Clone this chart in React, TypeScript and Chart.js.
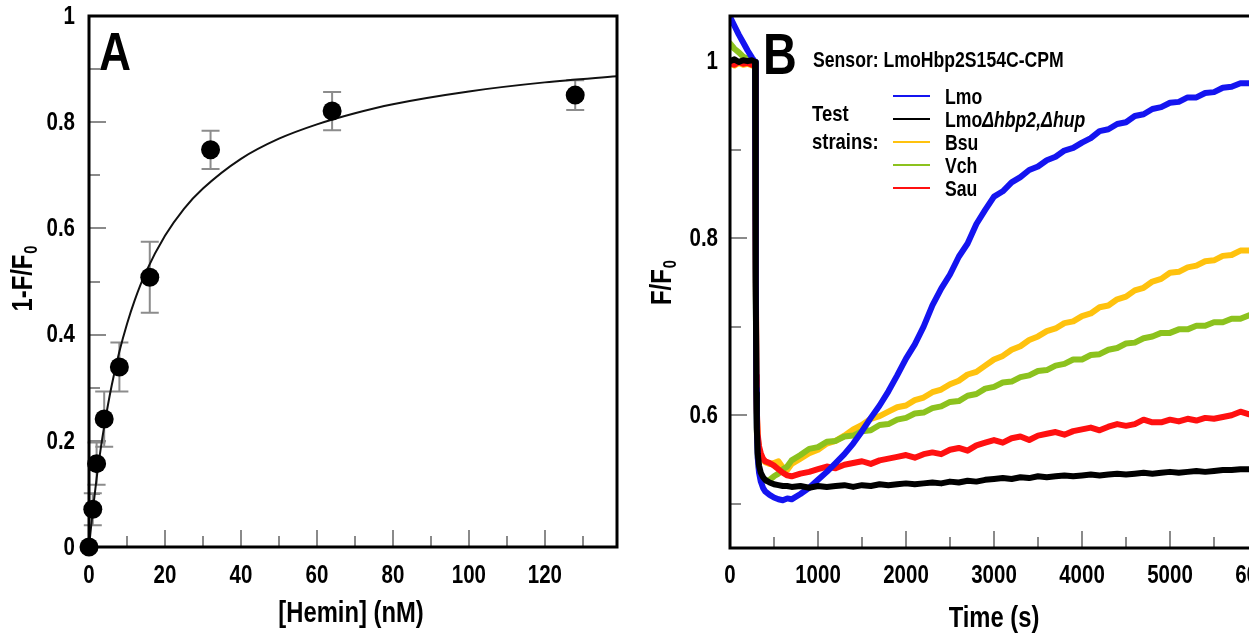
import React, { useEffect, useRef } from "react";
import { Chart, registerables } from "chart.js";

Chart.register(...registerables);

const FONT = "'Liberation Sans', Arial, sans-serif";
const SQUEEZE = 0.82;
const TICK_COLOR = "#8a8a8a";
const ERR_COLOR = "#8c8c8c";

// ---------------- Panel A data ----------------
const HEMIN_NM = [0, 1, 2, 4, 8, 16, 32, 64, 128];
const QUENCH = [0, 0.071, 0.157, 0.241, 0.339, 0.508, 0.748, 0.821, 0.851];
const QUENCH_ERR = [0, 0.03, 0.04, 0.052, 0.046, 0.067, 0.036, 0.036, 0.028];
const FIT_X = [0, 1, 2, 3, 4, 6, 8, 10, 12, 15, 20, 25, 30, 40, 50, 60, 70, 80, 100, 120, 140];
const FIT_Y = [0, 0.069, 0.129, 0.181, 0.227, 0.305, 0.368, 0.42, 0.464, 0.518, 0.586, 0.637, 0.675, 0.731, 0.769, 0.796, 0.817, 0.834, 0.858, 0.875, 0.887];
const A_X_MAJOR = [0, 20, 40, 60, 80, 100, 120];
const A_X_MINOR = [10, 30, 50, 70, 90, 110, 130];
const A_Y_MAJOR = [0, 0.2, 0.4, 0.6, 0.8, 1];
const A_Y_MINOR = [0.1, 0.3, 0.5, 0.7, 0.9];
const A_Y_LABELS = ["0", "0.2", "0.4", "0.6", "0.8", "1"];

// ---------------- Panel B data ----------------
const TIME_S = [
  0, 50, 100, 150, 200, 250, 285, 290, 295, 300, 305, 315, 330, 350, 375, 400, 450, 500, 550, 600, 650, 700,
  800, 900, 1000, 1100, 1200, 1300, 1400, 1500, 1600, 1700,
  1800, 1900, 2000, 2100, 2200, 2300, 2400, 2500, 2600, 2700,
  2800, 2900, 3000, 3100, 3200, 3300, 3400, 3500, 3600, 3700,
  3800, 3900, 4000, 4100, 4200, 4300, 4400, 4500, 4600, 4700,
  4800, 4900, 5000, 5100, 5200, 5300, 5400, 5500, 5600, 5700,
  5800, 5900, 6000,
];
const LMO = [
  1.05, 1.04, 1.03, 1.021, 1.012, 1.004, 0.999, 0.97, 0.76, 0.63, 0.585, 0.552, 0.535, 0.525, 0.518, 0.514, 0.51, 0.507, 0.505, 0.504, 0.506, 0.505,
  0.511, 0.518, 0.527, 0.536, 0.546, 0.556, 0.568, 0.582, 0.597, 0.611,
  0.627, 0.645, 0.664, 0.68, 0.7, 0.724, 0.743, 0.759, 0.779, 0.794,
  0.816, 0.832, 0.847, 0.853, 0.863, 0.869, 0.877, 0.881, 0.888, 0.892,
  0.899, 0.902, 0.908, 0.913, 0.921, 0.923, 0.929, 0.931, 0.938, 0.94,
  0.946, 0.948, 0.953, 0.954, 0.959, 0.959, 0.964, 0.965, 0.97, 0.971,
  0.975, 0.975, 0.978,
];
const LMO_DHBP2_DHUP = [
  1.0, 1.002, 0.999, 1.001, 1.0, 1.001, 0.999, 0.96, 0.75, 0.625, 0.585, 0.557, 0.543, 0.535, 0.53, 0.527, 0.524, 0.522, 0.521, 0.52, 0.52, 0.519,
  0.52, 0.518, 0.52, 0.519, 0.52, 0.521, 0.519, 0.521, 0.52, 0.522,
  0.521, 0.522, 0.523, 0.522, 0.523, 0.524, 0.523, 0.525, 0.524, 0.526,
  0.525, 0.527, 0.528, 0.529, 0.528, 0.53, 0.529, 0.531, 0.53, 0.531,
  0.532, 0.531, 0.532, 0.533, 0.532, 0.533, 0.534, 0.533, 0.534, 0.535,
  0.534, 0.535, 0.536, 0.535, 0.536, 0.537, 0.536, 0.537, 0.538, 0.538,
  0.539, 0.539, 0.54,
];
const BSU = [
  0.997, 0.995, 0.998, 0.996, 0.997, 0.995, 0.996, 0.96, 0.77, 0.64, 0.6, 0.575, 0.562, 0.555, 0.55, 0.547, 0.545, 0.546, 0.548, 0.541, 0.538, 0.545,
  0.551, 0.557, 0.561, 0.568, 0.571, 0.577, 0.584, 0.589, 0.596, 0.599,
  0.604, 0.609, 0.611, 0.617, 0.62, 0.626, 0.629, 0.635, 0.639, 0.646,
  0.649, 0.656, 0.663, 0.667, 0.674, 0.678, 0.685, 0.689, 0.695, 0.698,
  0.704, 0.706, 0.712, 0.715, 0.722, 0.724, 0.731, 0.734, 0.741, 0.744,
  0.751, 0.754, 0.761, 0.762, 0.767, 0.769, 0.774, 0.775, 0.78, 0.781,
  0.786, 0.786, 0.79,
];
const VCH = [
  1.02, 1.014, 1.01, 1.005, 1.003, 1.0, 0.998, 0.96, 0.75, 0.625, 0.582, 0.553, 0.538, 0.531, 0.527, 0.526, 0.527, 0.531, 0.534, 0.539, 0.542, 0.549,
  0.555, 0.562, 0.564, 0.57, 0.571, 0.576, 0.577, 0.582, 0.583, 0.589,
  0.59, 0.595, 0.597, 0.602, 0.603, 0.608, 0.61, 0.615, 0.616, 0.622,
  0.624, 0.63, 0.632, 0.637, 0.638, 0.643, 0.645, 0.65, 0.651, 0.656,
  0.658, 0.663, 0.663, 0.668, 0.669, 0.674, 0.676, 0.681, 0.682, 0.687,
  0.689, 0.693, 0.693, 0.697, 0.697, 0.701, 0.701, 0.705, 0.705, 0.709,
  0.709, 0.713, 0.714,
];
const SAU = [
  0.998, 0.996, 0.999, 0.997, 0.998, 0.996, 0.997, 0.96, 0.78, 0.645, 0.605, 0.578, 0.565, 0.557, 0.551, 0.548, 0.546, 0.543, 0.539, 0.535, 0.532, 0.531,
  0.534, 0.536, 0.539, 0.542, 0.54, 0.544, 0.546, 0.548, 0.545, 0.549,
  0.551, 0.553, 0.555, 0.552, 0.556, 0.558, 0.556, 0.561, 0.563, 0.56,
  0.566, 0.569, 0.572, 0.569, 0.574, 0.576, 0.572, 0.577, 0.579, 0.581,
  0.578, 0.582, 0.584, 0.586, 0.583, 0.587, 0.59, 0.588, 0.59, 0.595,
  0.592, 0.592, 0.595, 0.593, 0.596, 0.594, 0.597, 0.596, 0.598, 0.6,
  0.604, 0.601, 0.603,
];
const STRAIN_NAMES = ["Lmo", "LmoΔhbp2,Δhup", "Bsu", "Vch", "Sau"];
const STRAIN_COLORS = ["#1414f0", "#000000", "#ffc20e", "#8cc21e", "#ff1010"];
const B_X_MAJOR = [0, 1000, 2000, 3000, 4000, 5000, 6000];
const B_X_MINOR = [500, 1500, 2500, 3500, 4500, 5500, 6500];
const B_Y_MAJOR = [0.6, 0.8, 1.0];
const B_Y_MINOR = [0.5, 0.7, 0.9];
const B_Y_LABELS = ["0.6", "0.8", "1"];

type Ctx = CanvasRenderingContext2D;

function txt(ctx: Ctx, s: string, x: number, y: number, size: number, align: CanvasTextAlign = "left", baseline: CanvasTextBaseline = "alphabetic", style = "bold") {
  ctx.save();
  ctx.translate(x, y);
  ctx.scale(SQUEEZE, 1);
  ctx.font = `${style} ${size}px ${FONT}`;
  ctx.textAlign = align;
  ctx.textBaseline = baseline;
  ctx.fillStyle = "#000";
  ctx.fillText(s, 0, 0);
  ctx.restore();
}

function width(ctx: Ctx, s: string, size: number, style = "bold") {
  ctx.save();
  ctx.font = `${style} ${size}px ${FONT}`;
  const w = ctx.measureText(s).width * SQUEEZE;
  ctx.restore();
  return w;
}

function subTitle(ctx: Ctx, main: string, sub: string, size: number) {
  // centred on (0,0), baseline at 0
  const subSize = Math.round(size * 0.62);
  const w1 = width(ctx, main, size);
  const w2 = width(ctx, sub, subSize);
  const start = -(w1 + w2) / 2;
  txt(ctx, main, start, 0, size);
  txt(ctx, sub, start + w1 + 1, size * 0.16, subSize);
}

function tickLines(ctx: Ctx, chart: any, xMaj: number[], xMin: number[], yMaj: number[], yMin: number[]) {
  const { chartArea: ca, scales } = chart;
  const x = scales.x, y = scales.y;
  ctx.strokeStyle = TICK_COLOR;
  ctx.lineWidth = 2;
  ctx.beginPath();
  const vx = (vals: number[], len: number) => vals.forEach((v) => {
    const p = Math.round(x.getPixelForValue(v));
    ctx.moveTo(p, ca.bottom);
    ctx.lineTo(p, ca.bottom - len);
  });
  const vy = (vals: number[], len: number) => vals.forEach((v) => {
    const p = Math.round(y.getPixelForValue(v));
    ctx.moveTo(ca.left, p);
    ctx.lineTo(ca.left + len, p);
  });
  vx(xMaj, 17); vx(xMin, 11); vy(yMaj, 17); vy(yMin, 11);
  ctx.stroke();
}

function tickLabels(ctx: Ctx, chart: any, xVals: number[], xLabels: string[], yVals: number[], yLabels: string[], xLabelY: number, yLabelGap: number) {
  const { chartArea: ca, scales } = chart;
  xVals.forEach((v, i) => txt(ctx, xLabels[i], scales.x.getPixelForValue(v), xLabelY, 25, "center", "middle"));
  yVals.forEach((v, i) => txt(ctx, yLabels[i], ca.left - yLabelGap, scales.y.getPixelForValue(v) + 1, 25, "right", "middle"));
}

function frame(ctx: Ctx, ca: any) {
  ctx.strokeStyle = "#000";
  ctx.lineWidth = 3;
  ctx.strokeRect(ca.left, ca.top, ca.right - ca.left, ca.bottom - ca.top);
}

const zeroPad = (scale: any) => {
  scale.paddingTop = 0; scale.paddingBottom = 0; scale.paddingLeft = 0; scale.paddingRight = 0;
};

const panelAPlugin = {
  id: "panelA",
  beforeDatasetsDraw(chart: any) {
    const { ctx, scales } = chart;
    ctx.save();
    tickLines(ctx, chart, A_X_MAJOR, A_X_MINOR, A_Y_MAJOR, A_Y_MINOR);
    ctx.strokeStyle = ERR_COLOR;
    ctx.lineWidth = 2;
    ctx.beginPath();
    HEMIN_NM.forEach((c, i) => {
      const e = QUENCH_ERR[i];
      if (!e) return;
      const px = scales.x.getPixelForValue(c);
      const t = scales.y.getPixelForValue(QUENCH[i] + e);
      const b = scales.y.getPixelForValue(QUENCH[i] - e);
      ctx.moveTo(px, t); ctx.lineTo(px, b);
      ctx.moveTo(px - 9, t); ctx.lineTo(px + 9, t);
      ctx.moveTo(px - 9, b); ctx.lineTo(px + 9, b);
    });
    ctx.stroke();
    ctx.restore();
  },
  afterDraw(chart: any) {
    const { ctx, chartArea: ca } = chart;
    ctx.save();
    frame(ctx, ca);
    tickLabels(ctx, chart, A_X_MAJOR, A_X_MAJOR.map(String), A_Y_MAJOR, A_Y_LABELS, 576, 14);
    txt(ctx, "A", 99, 70, 54);
    txt(ctx, "[Hemin] (nM)", 351, 622, 29, "center");
    ctx.translate(32, 279);
    ctx.rotate(-Math.PI / 2);
    subTitle(ctx, "1-F/F", "0", 29);
    ctx.restore();
  },
};

const panelBPlugin = {
  id: "panelB",
  beforeDatasetsDraw(chart: any) {
    const { ctx } = chart;
    ctx.save();
    tickLines(ctx, chart, B_X_MAJOR, B_X_MINOR, B_Y_MAJOR, B_Y_MINOR);
    ctx.restore();
  },
  afterDraw(chart: any) {
    const { ctx, chartArea: ca } = chart;
    ctx.save();
    frame(ctx, ca);
    tickLabels(ctx, chart, B_X_MAJOR, B_X_MAJOR.map(String), B_Y_MAJOR, B_Y_LABELS, 576, 12);
    txt(ctx, "B", 123, 74, 57);
    txt(ctx, "Sensor: LmoHbp2S154C-CPM", 173, 67, 21.5);
    txt(ctx, "Test", 172, 121, 22.5);
    txt(ctx, "strains:", 172, 149, 22.5);
    const ys = [96, 119, 142, 165, 188];
    STRAIN_NAMES.forEach((name, i) => {
      ctx.strokeStyle = STRAIN_COLORS[i];
      ctx.lineWidth = 2;
      ctx.beginPath();
      ctx.moveTo(253, ys[i]);
      ctx.lineTo(290, ys[i]);
      ctx.stroke();
      const base = ys[i] + 7.5;
      if (name.indexOf("Δ") > 0) {
        txt(ctx, "Lmo", 305, base, 21.5);
        const w = width(ctx, "Lmo", 21.5);
        txt(ctx, "Δhbp2,Δhup", 305 + w, base, 21.5, "left", "alphabetic", "italic bold");
      } else {
        txt(ctx, name, 305, base, 21.5);
      }
    });
    txt(ctx, "Time (s)", 354, 627, 29, "center");
    ctx.translate(31, 283);
    ctx.rotate(-Math.PI / 2);
    subTitle(ctx, "F/F", "0", 29);
    ctx.restore();
  },
};

export default function App() {
  const aRef = useRef<HTMLCanvasElement>(null);
  const bRef = useRef<HTMLCanvasElement>(null);

  useEffect(() => {
    const chartA = new Chart(aRef.current as HTMLCanvasElement, {
      type: "scatter",
      data: {
        datasets: [
          {
            label: "data",
            data: HEMIN_NM.map((x, i) => ({ x, y: QUENCH[i] })),
            pointRadius: 9.5,
            pointBackgroundColor: "#000",
            pointBorderColor: "#000",
            pointBorderWidth: 0,
            showLine: false,
            clip: false,
            order: 0,
          } as any,
          {
            label: "fit",
            data: FIT_X.map((x, i) => ({ x, y: FIT_Y[i] })),
            showLine: true,
            borderColor: "#111",
            borderWidth: 2,
            pointRadius: 0,
            cubicInterpolationMode: "monotone",
            order: 1,
          } as any,
        ],
      },
      options: {
        animation: false,
        responsive: false,
        layout: { padding: { left: 0, top: 16, right: 23, bottom: 0 } },
        plugins: { legend: { display: false }, tooltip: { enabled: false } },
        scales: {
          x: {
            type: "linear",
            min: 0,
            max: 139,
            grid: { display: false },
            border: { display: false },
            afterBuildTicks: (s: any) => { s.ticks = A_X_MAJOR.map((v) => ({ value: v })); },
            afterFit: (s: any) => { s.height = 635 - 547; zeroPad(s); },
            ticks: { display: false },
          },
          y: {
            type: "linear",
            min: 0,
            max: 1,
            grid: { display: false },
            border: { display: false },
            afterBuildTicks: (s: any) => { s.ticks = A_Y_MAJOR.map((v) => ({ value: v })); },
            afterFit: (s: any) => { s.width = 89; zeroPad(s); },
            ticks: { display: false },
          },
        },
      },
      plugins: [panelAPlugin],
    });

    const series = [LMO, LMO_DHBP2_DHUP, BSU, VCH, SAU];
    const drawOrder = [1, 0, 4, 3, 2];
    const chartB = new Chart(bRef.current as HTMLCanvasElement, {
      type: "line",
      data: {
        datasets: series.map((vals, k) => ({
          label: STRAIN_NAMES[k],
          data: TIME_S.map((t, i) => ({ x: t, y: vals[i] })),
          borderColor: STRAIN_COLORS[k],
          borderWidth: 6,
          pointRadius: 0,
          tension: 0,
          borderJoinStyle: "round",
          borderCapStyle: "round",
          order: drawOrder[k],
        })) as any,
      },
      options: {
        animation: false,
        responsive: false,
        layout: { padding: { left: 0, top: 16, right: 18, bottom: 0 } },
        plugins: { legend: { display: false }, tooltip: { enabled: false } },
        scales: {
          x: {
            type: "linear",
            min: 0,
            max: 6500,
            grid: { display: false },
            border: { display: false },
            afterBuildTicks: (s: any) => { s.ticks = B_X_MAJOR.map((v) => ({ value: v })); },
            afterFit: (s: any) => { s.height = 635 - 548; zeroPad(s); },
            ticks: { display: false },
          },
          y: {
            type: "linear",
            min: 0.45,
            max: 1.051,
            grid: { display: false },
            border: { display: false },
            afterBuildTicks: (s: any) => { s.ticks = B_Y_MAJOR.map((v) => ({ value: v })); },
            afterFit: (s: any) => { s.width = 90; zeroPad(s); },
            ticks: { display: false },
          },
        },
      },
      plugins: [panelBPlugin],
    });

    return () => {
      chartA.destroy();
      chartB.destroy();
    };
  }, []);

  return (
    <div style={{ position: "fixed", left: 0, top: 0, width: 1249, height: 635, overflow: "hidden", background: "#fff" }}>
      <canvas ref={aRef} width={640} height={635} style={{ position: "absolute", left: 0, top: 0, width: 640, height: 635 }} />
      <canvas ref={bRef} width={680} height={635} style={{ position: "absolute", left: 640, top: 0, width: 680, height: 635 }} />
    </div>
  );
}
